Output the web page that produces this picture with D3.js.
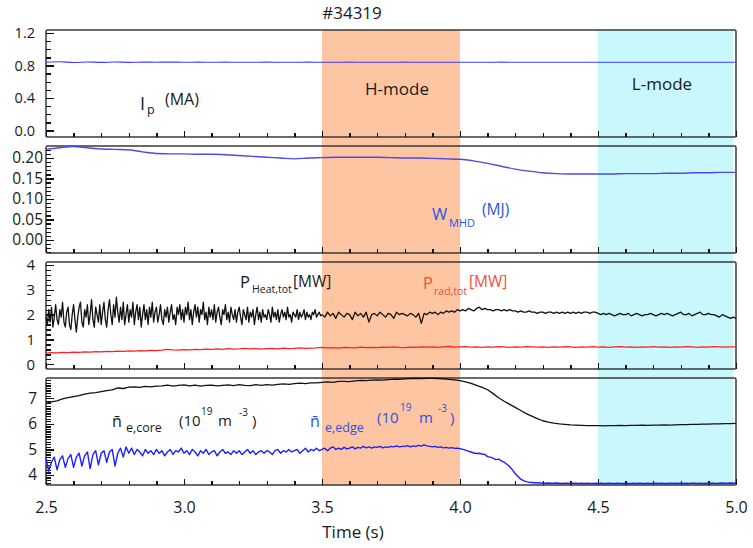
<!DOCTYPE html>
<html>
<head>
<meta charset="utf-8">
<script src="https://cdn.jsdelivr.net/npm/d3@7"></script>
<style>
  body { margin: 0; background: #fff; }
  svg text { font-family: "Open Sans", "Noto Sans", sans-serif; }
</style>
</head>
<body>
<div id="chart"></div>
<script>
// time axis and phases
var xTicks = [2.5, 3.0, 3.5, 4.0, 4.5, 5.0];
var hMode = [3.5, 4.0];
var lMode = [4.5, 4.99];

// tick labels of each panel
var ipTicks = [0.0, 0.4, 0.8, 1.2];
var wTicks = [0.00, 0.05, 0.10, 0.15, 0.20];
var pTicks = [0, 1, 2, 3, 4];
var nTicks = [4, 5, 6, 7];

// plasma current Ip (MA), every 0.05 s from 2.5 s
var ipVals = [0.84,0.846,0.837,0.844,0.838,0.843,0.839,0.842,0.84,0.842,
  0.84,0.841,0.84,0.841,0.84,0.84,0.841,0.84,0.84,0.841,
  0.84,0.84,0.841,0.84,0.84,0.84,0.841,0.84,0.84,0.84,
  0.84,0.84,0.84,0.841,0.84,0.84,0.84,0.84,0.84,0.84,
  0.84,0.84,0.84,0.84,0.84,0.84,0.84,0.84,0.84,0.84,0.84];

// stored energy W_MHD (MJ), every 0.05 s from 2.5 s
var wVals = [0.221,0.225,0.228,0.225,0.222,0.221,0.22,0.215,0.211,0.21,
  0.21,0.209,0.209,0.208,0.206,0.204,0.202,0.2,0.198,0.2,
  0.201,0.202,0.202,0.202,0.202,0.201,0.2,0.2,0.199,0.198,
  0.197,0.193,0.187,0.18,0.173,0.168,0.164,0.162,0.161,0.161,
  0.161,0.161,0.162,0.162,0.162,0.163,0.163,0.164,0.164,0.165,0.165];

// heating power (MW), every 0.005 s from 2.5 to 3.495 s
var pHeatA = [1.9,1.6,2.2,1.7,2.3,1.5,1.9,2.4,1.8,1.6,2.2,1.9,2.5,1.7,1.5,2.1,2.3,1.6,1.4,2.0,
  2.4,1.8,1.3,1.9,2.3,2.5,1.7,1.5,2.2,1.9,2.4,1.6,2.0,2.6,1.8,1.5,2.3,2.0,1.7,2.4,
  1.6,2.1,2.5,1.8,1.5,2.2,2.6,2.0,1.6,2.4,1.9,2.7,2.1,1.7,2.3,1.8,2.5,1.6,2.0,2.4,
  1.7,2.2,1.9,2.5,1.6,2.1,2.4,1.8,2.3,1.5,2.0,2.4,1.8,2.2,1.6,2.3,1.9,2.5,1.7,2.1,
  2.3,1.7,2.0,2.4,1.8,1.6,2.2,1.9,2.3,1.7,2.1,2.4,1.8,2.0,1.6,2.3,2.0,2.4,1.8,2.2,
  1.7,2.3,2.0,2.5,1.8,2.2,1.6,2.1,2.4,1.9,2.3,1.7,2.2,2.0,2.5,1.8,2.1,1.6,2.3,1.9,
  2.2,1.8,2.4,1.7,2.1,2.3,1.9,1.6,2.2,2.0,2.4,1.8,2.1,1.7,2.3,2.0,1.8,2.2,1.7,2.1,
  2.3,1.9,1.6,2.2,2.0,1.8,2.3,1.7,2.1,1.9,2.2,1.6,2.0,2.3,1.8,2.1,1.7,2.2,1.9,2.0,
  1.8,2.2,2.0,1.7,2.3,1.9,2.1,1.8,2.2,1.7,2.0,2.2,1.9,2.1,1.8,2.3,1.9,2.0,1.7,2.1,
  2.0,1.9,2.2,1.8,2.1,1.9,2.0,2.2,1.8,2.1,1.9,2.0,1.8,2.1,2.0,2.2,1.9,2.0,2.1,1.95];
// heating power (MW), every 0.01 s from 3.5 to 5.0 s
var pHeatB = [2.0,1.9,2.1,1.95,2.05,1.85,2.1,2.0,1.9,2.05,
  2.0,1.8,2.1,1.95,2.05,1.9,2.1,1.7,2.0,2.05,
  1.95,2.1,2.0,1.9,2.05,2.0,1.85,2.1,2.0,2.05,
  2.0,1.95,2.05,2.0,1.9,2.05,1.65,2.05,2.0,2.1,
  2.05,2.1,2.0,2.1,2.05,2.15,2.1,2.15,2.1,2.2,
  2.15,2.2,2.15,2.25,2.2,2.15,2.25,2.3,2.2,2.25,
  2.2,2.2,2.15,2.2,2.2,2.15,2.2,2.15,2.2,2.15,
  2.15,2.1,2.15,2.1,2.1,2.15,2.1,2.1,2.05,2.1,
  2.1,2.05,2.1,2.1,2.05,2.1,2.05,2.1,2.05,2.1,
  2.05,2.1,2.05,2.1,2.05,2.1,2.1,2.05,2.1,2.1,
  2.05,2.0,2.05,2.0,2.05,2.0,1.95,2.0,2.05,2.0,
  2.0,2.05,1.95,2.0,2.05,2.0,1.95,2.0,2.0,2.05,
  2.0,1.95,2.0,2.05,2.0,2.05,2.0,1.95,2.0,2.05,
  2.1,2.0,2.0,2.05,1.95,2.0,2.05,2.1,2.0,2.0,
  2.05,2.0,2.0,1.95,1.9,2.0,1.95,1.9,1.85,1.9,1.85];

// radiated power (MW), every 0.02 s from 2.5 s
var pRadVals = [0.45,0.47,0.46,0.48,0.47,0.49,0.48,0.5,0.49,0.51,
  0.5,0.52,0.51,0.53,0.52,0.54,0.53,0.55,0.54,0.56,
  0.55,0.57,0.6,0.58,0.57,0.59,0.58,0.6,0.59,0.61,
  0.6,0.62,0.6,0.63,0.61,0.62,0.64,0.62,0.63,0.61,
  0.63,0.64,0.62,0.65,0.63,0.64,0.66,0.64,0.65,0.66,
  0.68,0.66,0.67,0.65,0.68,0.67,0.66,0.69,0.67,0.68,
  0.67,0.69,0.68,0.7,0.68,0.67,0.69,0.68,0.7,0.69,
  0.7,0.68,0.7,0.72,0.69,0.7,0.71,0.69,0.7,0.68,
  0.7,0.69,0.71,0.7,0.68,0.7,0.69,0.71,0.7,0.69,
  0.7,0.68,0.7,0.69,0.71,0.7,0.68,0.7,0.69,0.71,
  0.69,0.7,0.68,0.7,0.71,0.69,0.7,0.68,0.7,0.69,
  0.71,0.69,0.7,0.68,0.7,0.69,0.71,0.7,0.68,0.7,
  0.69,0.71,0.7,0.69,0.7,0.7];

// core line density (1e19 m^-3), every 0.02 s from 2.5 s
var nCoreVals = [6.8,6.86,6.9,6.97,7.02,7.06,7.1,7.16,7.2,7.22,
  7.26,7.3,7.33,7.4,7.38,7.43,7.44,7.42,7.46,7.44,
  7.47,7.48,7.51,7.47,7.5,7.52,7.48,7.51,7.47,7.5,
  7.51,7.48,7.5,7.52,7.49,7.53,7.5,7.49,7.53,7.5,
  7.53,7.51,7.54,7.56,7.54,7.57,7.59,7.57,7.6,7.6,
  7.62,7.64,7.62,7.66,7.66,7.65,7.68,7.7,7.69,7.71,
  7.72,7.71,7.73,7.75,7.74,7.76,7.77,7.78,7.77,7.78,
  7.78,7.77,7.76,7.74,7.72,7.69,7.64,7.58,7.5,7.42,
  7.33,7.18,7.02,6.88,6.76,6.64,6.52,6.4,6.3,6.2,
  6.12,6.07,6.03,6.0,5.98,5.96,5.95,5.94,5.93,5.93,
  5.93,5.92,5.93,5.93,5.94,5.93,5.94,5.94,5.95,5.94,
  5.95,5.95,5.96,5.95,5.96,5.97,5.97,5.98,5.98,5.99,
  5.99,6.0,6.0,6.01,6.01,6.02];

// edge line density (1e19 m^-3), every 0.01 s from 2.5 s
var nEdgeVals = [4.65,4.15,4.5,4.7,4.2,4.6,4.75,4.3,4.65,4.8,
  4.3,4.7,4.85,4.35,4.75,4.9,4.25,4.8,4.95,4.4,
  4.85,4.95,4.5,4.9,5.0,4.35,4.85,5.05,4.7,5.1,
  4.85,5.05,4.8,5.0,4.9,4.75,5.0,4.85,4.95,4.8,
  5.0,4.85,4.95,4.75,4.9,5.0,4.8,4.95,4.9,5.05,
  4.85,4.95,4.8,5.0,4.9,4.75,4.95,4.85,5.0,4.8,
  4.9,4.95,4.75,4.9,5.0,4.85,4.9,4.8,4.95,4.85,
  4.95,4.8,4.9,5.0,4.85,4.95,4.8,4.9,4.95,4.85,
  4.95,4.9,4.8,4.95,5.0,4.85,4.95,4.9,5.0,4.9,
  4.95,5.0,4.85,4.95,5.05,4.9,5.0,4.95,5.05,4.95,
  5.0,5.05,4.95,5.05,5.1,5.0,5.05,5.0,5.08,5.02,
  5.05,5.1,5.02,5.08,5.05,5.12,5.06,5.1,5.05,5.1,
  5.08,5.12,5.06,5.1,5.08,5.12,5.1,5.14,5.1,5.12,
  5.12,5.15,5.1,5.14,5.12,5.16,5.13,5.18,5.14,5.12,
  5.1,5.12,5.08,5.1,5.06,5.08,5.05,5.07,5.04,5.05,
  5.03,5.0,4.97,4.93,4.9,4.86,4.84,4.85,4.82,4.8,
  4.72,4.7,4.66,4.6,4.62,4.55,4.5,4.42,4.32,4.2,
  4.06,3.94,3.84,3.78,3.74,3.72,3.71,3.7,3.7,3.69,
  3.69,3.68,3.69,3.68,3.68,3.69,3.68,3.67,3.68,3.68,
  3.67,3.68,3.68,3.67,3.68,3.67,3.68,3.67,3.67,3.68,
  3.67,3.68,3.67,3.67,3.68,3.67,3.67,3.68,3.67,3.67,
  3.68,3.67,3.67,3.68,3.67,3.68,3.67,3.67,3.68,3.67,
  3.67,3.68,3.67,3.68,3.67,3.67,3.68,3.67,3.68,3.67,
  3.68,3.67,3.68,3.67,3.68,3.68,3.67,3.68,3.67,3.68,
  3.67,3.68,3.68,3.67,3.68,3.69,3.68,3.68,3.69,3.68,3.69];

function series(start, step, vals) {
  return vals.map(function (v, i) { return [start + i * step, v]; });
}

var width = 753, height = 548;
var left = 46, right = 736;

var svg = d3.select("#chart").append("svg")
  .attr("width", width).attr("height", height);

var x = d3.scaleLinear().domain([2.5, 5.0]).range([left, right]);

// panels: frame box, y domain, label column
var panels = [
  {top: 30, bottom: 137, domain: [-0.08, 1.237], ticks: ipTicks, minor: 0.1, fmt: ".1f", labelX: 35, size: 14.5},
  {top: 146, bottom: 253, domain: [-0.0317, 0.2293], ticks: wTicks, minor: 0.01, fmt: ".2f", labelX: 43, size: 15.5},
  {top: 262, bottom: 369, domain: [-0.19, 4.12], ticks: pTicks, minor: 0.2, fmt: "d", labelX: 35, size: 15},
  {top: 378, bottom: 485, domain: [3.61, 7.79], ticks: nTicks, minor: 0.1, fmt: "d", labelX: 37, size: 15.5}
];
panels.forEach(function (p) {
  p.y = d3.scaleLinear().domain(p.domain).range([p.bottom, p.top]);
});

// phase bands across all panels
svg.append("rect")
  .attr("x", x(hMode[0])).attr("width", x(hMode[1]) - x(hMode[0]))
  .attr("y", panels[0].top).attr("height", panels[3].bottom - panels[0].top)
  .attr("fill", "#fdc5a1");
svg.append("rect")
  .attr("x", x(lMode[0])).attr("width", x(lMode[1]) - x(lMode[0]))
  .attr("y", panels[0].top).attr("height", panels[3].bottom - panels[0].top)
  .attr("fill", "#c9f8fc");

// frames
panels.forEach(function (p) {
  svg.append("rect")
    .attr("x", left).attr("y", p.top)
    .attr("width", right - left).attr("height", p.bottom - p.top)
    .attr("rx", 1.5)
    .attr("fill", "none").attr("stroke", "#3a3a3a").attr("stroke-width", 1.5);
});

// axes with inward ticks
panels.forEach(function (p, k) {
  var g = svg.append("g");
  var lo = Math.ceil(p.domain[0] / p.minor - 1e-6), hi = Math.floor(p.domain[1] / p.minor + 1e-6);
  var mv = d3.range(lo, hi + 1).map(function (i) { return i * p.minor; });

  g.append("g").attr("transform", "translate(" + left + ",0)")
    .call(d3.axisLeft(p.y).tickValues(mv).tickSizeInner(-5).tickSizeOuter(0).tickFormat(""));
  g.append("g").attr("transform", "translate(" + left + ",0)")
    .call(d3.axisLeft(p.y).tickValues(p.ticks).tickSizeInner(-8).tickSizeOuter(0)
      .tickPadding(left - p.labelX).tickFormat(d3.format(p.fmt)))
    .selectAll("text").attr("font-size", p.size).attr("fill", "#1a1a1a");

  var xm = d3.range(25, 51).map(function (i) { return i / 10; });
  g.append("g").attr("transform", "translate(0," + p.bottom + ")")
    .call(d3.axisBottom(x).tickValues(xm).tickSizeInner(-4).tickSizeOuter(0).tickFormat(""));
  var xa = g.append("g").attr("transform", "translate(0," + p.bottom + ")")
    .call(d3.axisBottom(x).tickValues(xTicks).tickSizeInner(-6).tickSizeOuter(0).tickPadding(17)
      .tickFormat(k === 3 ? d3.format(".1f") : ""));
  xa.selectAll("text").attr("font-size", 16).attr("fill", "#1a1a1a");

  g.selectAll(".domain").remove();
  g.selectAll(".tick line").attr("stroke", "#111").attr("stroke-width", 1.3)
    .attr("shape-rendering", "crispEdges");
});

// signals
function drawLine(p, data, color, w, curve) {
  svg.append("path").datum(data)
    .attr("fill", "none").attr("stroke", color).attr("stroke-width", w)
    .attr("stroke-linejoin", "round")
    .attr("d", d3.line().curve(curve || d3.curveLinear)
      .x(function (d) { return x(d[0]); })
      .y(function (d) { return p.y(d[1]); }));
}
drawLine(panels[0], series(2.5, 0.05, ipVals), "#3c3cff", 1.1, d3.curveMonotoneX);
drawLine(panels[1], series(2.5, 0.05, wVals), "#4b4be8", 1.4, d3.curveMonotoneX);
drawLine(panels[2], series(2.5, 0.005, pHeatA).concat(series(3.5, 0.01, pHeatB)), "#111", 1.3);
drawLine(panels[2], series(2.5, 0.02, pRadVals), "#ff2222", 1.3);
drawLine(panels[3], series(2.5, 0.02, nCoreVals), "#111", 1.3);
drawLine(panels[3], series(2.5, 0.01, nEdgeVals), "#1e1eff", 1.4);

// text labels
function put(x0, y0, txt, size, color, anchor) {
  svg.append("text").attr("x", x0).attr("y", y0)
    .attr("font-size", size).attr("fill", color || "#1a1a1a")
    .attr("text-anchor", anchor || "start").text(txt);
}
put(352, 19, "#34319", 17, "#1a1a1a", "middle");
put(397, 95, "H-mode", 17, "#1a1a1a", "middle");
put(662, 90, "L-mode", 17, "#1a1a1a", "middle");

put(140, 110, "I", 18);
put(147, 114, "p", 12.5);
put(165, 105, "(MA)", 16);

var wBlue = "#2a55e0";
put(432, 220, "W", 16.5, wBlue);
put(449, 227, "MHD", 11, wBlue);
put(482, 215, "(MJ)", 15.5, wBlue);

put(240, 288, "P", 16.5);
put(252, 293, "Heat,tot", 10.5);
put(293, 287, "[MW]", 15.5);

var rRed = "#f2503c";
put(423, 289, "P", 16.5, rRed);
put(434, 295, "rad,tot", 10.5, rRed);
put(469, 287, "[MW]", 15.5, rRed);

put(112, 427, "n\u0304", 16);
put(126, 432, "e,core", 12.5);
put(179, 426, "(10", 15);
put(201, 415, "19", 10);
put(218, 426, "m", 15);
put(239, 416, "-3", 10);
put(252, 426, ")", 15);

var nBlue = "#2a52e6";
put(310, 427, "n\u0304", 16, nBlue);
put(325, 432, "e,edge", 12.5, nBlue);
put(377, 423, "(10", 15, nBlue);
put(400, 411, "19", 10, nBlue);
put(419, 423, "m", 15, nBlue);
put(438, 412, "-3", 10, nBlue);
put(450, 423, ")", 15, nBlue);

put(353, 538, "Time (s)", 17, "#1a1a1a", "middle");
</script>
</body>
</html>
